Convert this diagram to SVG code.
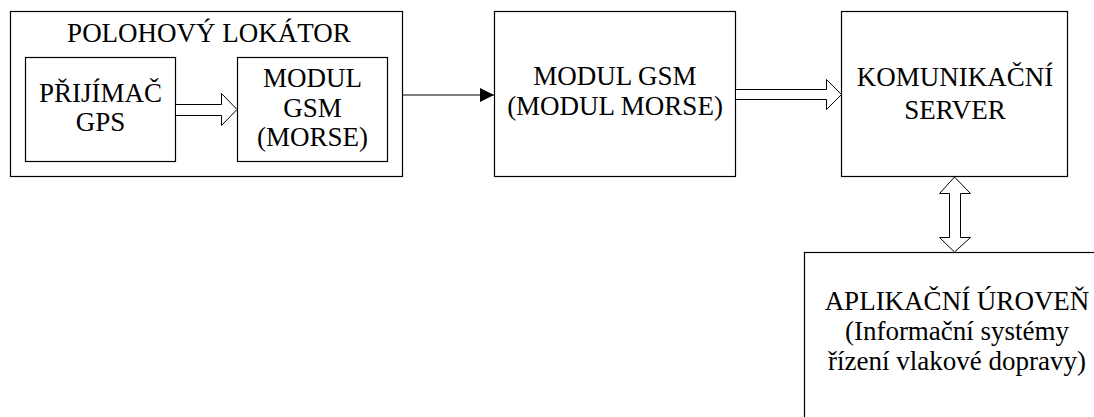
<svg xmlns="http://www.w3.org/2000/svg" width="1094" height="417" viewBox="0 0 1094 417">
  <style>
    .box { fill: #fff; stroke: #000; stroke-width: 1.2; }
    .hollow { fill: #fff; stroke: #000; stroke-width: 1; stroke-linejoin: miter; }
    .line { fill: none; stroke: #000; stroke-width: 1.2; }
    text { font-family: "Liberation Serif", "Times New Roman", serif; font-size: 27px; fill: #000; text-anchor: middle; }
  </style>
  <defs>
    <marker id="solid" markerWidth="14" markerHeight="14" refX="14" refY="7" orient="auto" markerUnits="userSpaceOnUse">
      <path d="M0,0 L14,7 L0,14 Z" fill="#000"/>
    </marker>
  </defs>
  <rect width="1094" height="417" fill="#fff"/>

  <g id="polohovy-lokator">
    <rect class="box" x="10.5" y="11.5" width="392" height="165"/>
    <text x="209" y="42">POLOHOVÝ LOKÁTOR</text>
  </g>

  <g id="prijimac-gps">
    <rect class="box" x="25.5" y="57.5" width="150" height="104"/>
    <text x="100.5" y="102">PŘIJÍMAČ</text>
    <text x="100.5" y="131">GPS</text>
  </g>

  <g id="modul-gsm-morse">
    <rect class="box" x="237.5" y="57.5" width="150" height="104"/>
    <text x="312.5" y="87">MODUL</text>
    <text x="312.5" y="117">GSM</text>
    <text x="312.5" y="146">(MORSE)</text>
  </g>

  <g id="modul-gsm">
    <rect class="box" x="494.5" y="11.5" width="241" height="165"/>
    <text x="615" y="85">MODUL GSM</text>
    <text x="615" y="115">(MODUL MORSE)</text>
  </g>

  <g id="komunikacni-server">
    <rect class="box" x="841.5" y="11.5" width="226" height="165"/>
    <text x="955" y="86">KOMUNIKAČNÍ</text>
    <text x="955" y="119">SERVER</text>
  </g>

  <g id="aplikacni-uroven">
    <rect class="box" x="804.5" y="252.5" width="306" height="200"/>
    <text x="957" y="310">APLIKAČNÍ ÚROVEŇ</text>
    <text x="957" y="340">(Informační systémy</text>
    <text x="957" y="370">řízení vlakové dopravy)</text>
  </g>

  <g id="connectors">
    <!-- hollow arrow: GPS receiver to GSM module -->
    <path class="hollow" d="M176,104.5 L221.5,104.5 L221.5,93.5 L237,109.5 L221.5,125.5 L221.5,115.5 L176,115.5"/>
    <!-- locator to GSM module -->
    <line class="line" x1="403" y1="95" x2="494" y2="95" marker-end="url(#solid)"/>
    <!-- hollow arrow: GSM module to server -->
    <path class="hollow" d="M736,89.5 L826.5,89.5 L826.5,79.5 L841.5,94.5 L826.5,109.5 L826.5,99.5 L736,99.5"/>
    <!-- double hollow arrow: server to application level -->
    <path class="hollow" d="M954.5,177 L970.5,193.5 L960.5,193.5 L960.5,237.5 L970.5,237.5 L954.5,252 L939.5,237.5 L949.5,237.5 L949.5,193.5 L939.5,193.5 Z"/>
  </g>
</svg>
